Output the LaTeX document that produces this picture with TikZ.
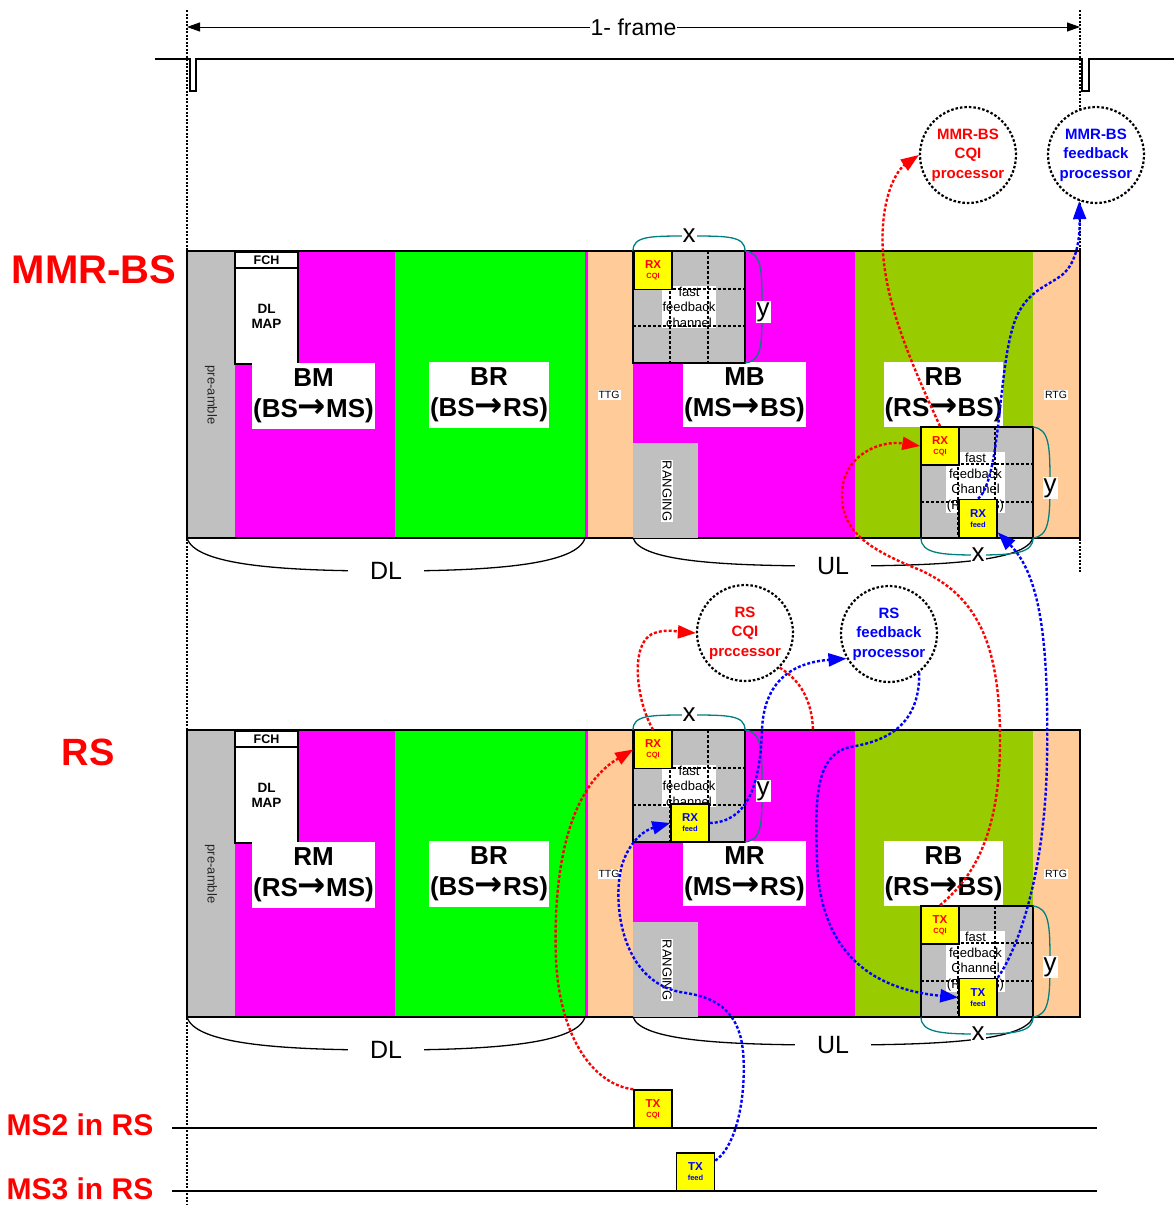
\documentclass[tikz,border=0pt]{standalone}
\usepackage{fontspec}
\setmainfont{Liberation Sans}
\newfontfamily\arrfont{DejaVu Sans}[Scale=1.3]
\usetikzlibrary{arrows.meta}
\definecolor{cgray}{HTML}{C0C0C0}
\definecolor{cmag}{HTML}{FF00FF}
\definecolor{cgreen}{HTML}{00FF00}
\definecolor{cpeach}{HTML}{FFCC99}
\definecolor{colive}{HTML}{99CC00}
\definecolor{cteal}{HTML}{008080}
\definecolor{cyel}{HTML}{FFFF00}
\newcommand\rarr{{\arrfont\bfseries →}}
\newcommand\ybtxt[2]{{\fontsize{11.5}{12}\selectfont #1}\\[-2pt]{\fontsize{7.5}{8}\selectfont #2}}
\newcommand\fbframe[6]{%
\begin{scope}[shift={(0,#2)}]
\fill[cgray] (187,251) rectangle (235,538);
\fill[cmag] (235,251) rectangle (395,538);
\fill[cgreen] (395,251) rectangle (585,538);
\fill[cmag] (585,251) rectangle (588,538);
\fill[cpeach] (588,251) rectangle (633,538);
\fill[cmag] (633,251) rectangle (855,538);
\fill[colive] (855,251) rectangle (1033,538);
\fill[cpeach] (1033,251) rectangle (1080,538);
\draw[line width=1.5] (187,251) rectangle (1080,538);
\node[rotate=-90, font=\fontsize{13}{13}\selectfont, text=black!85] (#1pre) at (211,395) {pre-amble};
\node[draw, fill=white, line width=1.3, minimum width=63, minimum height=16, inner sep=0, font=\bfseries\fontsize{12.5}{12.5}\selectfont] (#1fch) at (266.5,260) {FCH};
\node[draw, fill=white, line width=1.3, minimum width=63, minimum height=96, inner sep=0, align=center, font=\bfseries\fontsize{13.5}{15}\selectfont] (#1map) at (266.5,316) {DL\\MAP};
\node[fill=cgray, minimum width=65, minimum height=95, inner sep=0] (#1rng) at (665.5,490.5) {};
\node[rotate=-90, fill=white, inner sep=1, font=\fontsize{13}{13}\selectfont] (#1rngt) at (667,491) {RANGING};
\node[lbl, minimum width=123, minimum height=66] (#1la) at (313.5,396) {#3\\#4};
\node[lbl, minimum width=120, minimum height=66] (#1lb) at (489,395) {BR\\(BS\rarr RS)};
\node[lbl, minimum width=123, minimum height=65] (#1lc) at (744.5,394.5) {#5\\#6};
\node[lbl, minimum width=119, minimum height=65] (#1ld) at (943.5,394.5) {RB\\(RS\rarr BS)};
\node[smalllbl] (#1ttg) at (609,395) {TTG};
\node[smalllbl] (#1rtg) at (1056,395) {RTG};
% fast feedback grid (UL part 1)
\fill[cgray] (633,251) rectangle (745,363);
\node[ffbox] (#1fft) at (689,307) {fast\\feedback\\channel};
\draw[gridl] (670,251) -- (670,363) (708,251) -- (708,363) (633,289) -- (745,289) (633,326) -- (745,326);
\draw[line width=1.5] (633,251) rectangle (745,363);
% fast feedback grid (RB)
\fill[cgray] (921,427) rectangle (1033,538);
\node[ffbox] (#1rft) at (975.5,482.5) {fast\\feedback\\Channel\\(RS→BS)};
\draw[gridl] (958,427) -- (958,538) (995,427) -- (995,538) (921,464) -- (1033,464) (921,502) -- (1033,502);
\draw[line width=1.5] (921,427) rectangle (1033,538);
% braces
\draw[line width=1.3] (187,538) .. controls (195,565) and (280,571) .. (386,571) .. controls (492,571) and (577,565) .. (585,538);
\node[bigl] (#1dl) at (386,571) {DL};
\draw[line width=1.3] (633,538) .. controls (641,562) and (726,566) .. (833,566) .. controls (940,566) and (1025,562) .. (1033,538);
\node[bigl] (#1ul) at (833,566) {UL};
\draw[tealbr] (633,251) .. controls (633,236) and (650,236) .. (689,236) .. controls (728,236) and (745,236) .. (745,251);
\node[xyl] (#1bxa) at (689,236) {x};
\draw[tealbr] (745,251) .. controls (762,253) and (762,270) .. (762,307) .. controls (762,345) and (762,361) .. (745,363);
\node[xyl] (#1bya) at (763,312) {y};
\draw[tealbr] (1033,427) .. controls (1049,429) and (1050,445) .. (1050,482) .. controls (1050,520) and (1049,536) .. (1033,538);
\draw[tealbr] (921,538) .. controls (921,553) and (940,555) .. (977,555) .. controls (1015,555) and (1033,553) .. (1033,538);
\node[xyl] (#1byb) at (1050,488) {y};
\node[xyl] (#1bxb) at (978,555) {x};
\end{scope}}
\begin{document}
\begin{tikzpicture}[x=1pt,y=-1pt,
 lbl/.style={fill=white, inner sep=0, align=center, font=\bfseries\fontsize{26}{31}\selectfont},
 smalllbl/.style={fill=white, inner sep=1, font=\fontsize{10.5}{10.5}\selectfont},
 ffbox/.style={fill=white, inner sep=1pt, align=center, font=\fontsize{13}{15.5}\selectfont},
 gridl/.style={line width=1.8, dash pattern=on 3pt off 2pt},
 tealbr/.style={draw=cteal, line width=1.3},
 bigl/.style={fill=white, inner xsep=22, inner ysep=2, font=\fontsize{25}{25}\selectfont},
 xyl/.style={fill=white, inner sep=1, font=\fontsize{26}{26}\selectfont},
 ybox/.style={draw, line width=1.5, fill=cyel, minimum size=38, inner sep=0, align=center, font=\bfseries},
 proc/.style={circle, draw, fill=white, line width=2.2, dash pattern=on 2.5pt off 2pt, minimum size=96, inner sep=0, align=center, font=\bfseries\fontsize{15}{19.5}\selectfont},
 rcurve/.style={draw=red, line width=2.4, dash pattern=on 3pt off 2pt},
 bcurve/.style={draw=blue, line width=2.4, dash pattern=on 3pt off 2pt},
 tip/.style={-{Triangle[length=18pt,width=13pt]}},
 vdash/.style={line width=1.5, dash pattern=on 2pt off 1.5pt},
]
\useasboundingbox (0,0) rectangle (1174,1205);
% frame marker
\coordinate (fl) at (187,27);
\coordinate (fr) at (1080,27);
\draw[{Triangle[length=13pt,width=9pt]}-{Triangle[length=13pt,width=9pt]}, line width=1] (fl) -- (fr) node[midway, fill=white, inner sep=1, font=\fontsize{23}{23}\selectfont] (flab) {1- frame};
\draw[line width=1.3] (155,59) -- (190,59) -- (190,91) -- (196,91) -- (196,59) -- (1082,59) -- (1082,91) -- (1089,91) -- (1089,59) -- (1174,59);
\draw[vdash] (187,10) -- (187,1205);
\draw[vdash] (1080,10) -- (1080,572);
% frames
\fbframe{a}{0}{BM}{(BS\rarr MS)}{MB}{(MS\rarr BS)}
\fbframe{b}{479}{RM}{(RS\rarr MS)}{MR}{(MS\rarr RS)}
% MS lines
\draw[line width=1.5] (172,1128) -- (1097,1128);
\draw[line width=1.5] (172,1191) -- (1097,1191);
% left labels
\node[text=red, font=\bfseries\fontsize{40}{40}\selectfont] (lmmr) at (94,270) {MMR-BS};
\node[text=red, font=\bfseries\fontsize{38}{38}\selectfont] (lrs) at (88,752) {RS};
\node[text=red, font=\bfseries\fontsize{30}{30}\selectfont] (lms2) at (80,1125) {MS2 in RS};
\node[text=red, font=\bfseries\fontsize{30}{30}\selectfont] (lms3) at (80,1189) {MS3 in RS};
% processors
\node[proc, text=red] (p1) at (968,155) {MMR-BS\\CQI\\processor};
\node[proc, text=blue] (p2) at (1096,155) {MMR-BS\\feedback\\processor};
\node[proc, text=red] (p3) at (745,633) {RS\\CQI\\prccessor};
\node[proc, text=blue] (p4) at (889,634) {RS\\feedback\\processor};
% yellow boxes
\node[ybox, text=red] (arxc) at (653,270.5) {\ybtxt{RX}{CQI}};
\node[ybox, text=red] (arbc) at (940,446) {\ybtxt{RX}{CQI}};
\node[ybox, text=blue] (arbf) at (978,518.5) {\ybtxt{RX}{feed}};
\node[ybox, text=red] (brxc) at (653,749.5) {\ybtxt{RX}{CQI}};
\node[ybox, text=blue] (brxf) at (690,823) {\ybtxt{RX}{feed}};
\node[ybox, text=red] (btxc) at (940,925) {\ybtxt{TX}{CQI}};
\node[ybox, text=blue] (btxf) at (978,997.5) {\ybtxt{TX}{feed}};
\node[ybox, text=red] (mtxc) at (653,1109) {\ybtxt{TX}{CQI}};
\node[ybox, text=blue] (mtxf) at (695.5,1172) {\ybtxt{TX}{feed}};
% curves
\draw[rcurve, tip] (arbc.north) .. controls (910,360) and (878,290) .. (883,225) .. controls (886,185) and (900,168) .. (p1.west);
\draw[rcurve, tip] (btxc.north) .. controls (970,880) and (1000,840) .. (1000,740) .. controls (1000,640) and (975,595) .. (920,570) .. controls (865,548) and (842,530) .. (842,495) .. controls (842,455) and (880,440) .. (arbc.west);
\draw[bcurve, tip] (arbf.north) .. controls (1000,480) and (998,380) .. (1012,330) .. controls (1022,292) and (1045,288) .. (1062,275) .. controls (1078,262) and (1080,235) .. (p2.250);
\draw[bcurve, tip] (btxf.north east) .. controls (1020,945) and (1045,870) .. (1047,760) .. controls (1049,640) and (1040,575) .. (arbf.-35);
\draw[bcurve, tip] (brxf.east) .. controls (745,822) and (760,790) .. (762,730) .. controls (764,675) and (800,662) .. (p4.210);
\draw[bcurve, tip] (p4.-52) .. controls (920,730) and (880,742) .. (850,747) .. controls (815,755) and (815,800) .. (817,860) .. controls (820,960) and (880,990) .. (btxf.west);
\draw[bcurve, tip] (mtxf.30) .. controls (745,1140) and (748,1060) .. (740,1035) .. controls (730,1000) and (700,995) .. (680,992) .. controls (620,980) and (612,900) .. (622,865) .. controls (630,840) and (645,830) .. (brxf.west);
\draw[rcurve, tip] (brxc.north) .. controls (636,700) and (630,645) .. (652,634) .. controls (665,628) and (680,632) .. (p3.west);
\coordinate (rsftop) at (813,730);
\draw[rcurve] (p3.-45) .. controls (800,680) and (812,700) .. (rsftop);
\draw[rcurve, tip] (mtxc.north west) .. controls (595,1085) and (560,1040) .. (556,960) .. controls (553,880) and (565,790) .. (brxc.west);
\end{tikzpicture}
\end{document}
